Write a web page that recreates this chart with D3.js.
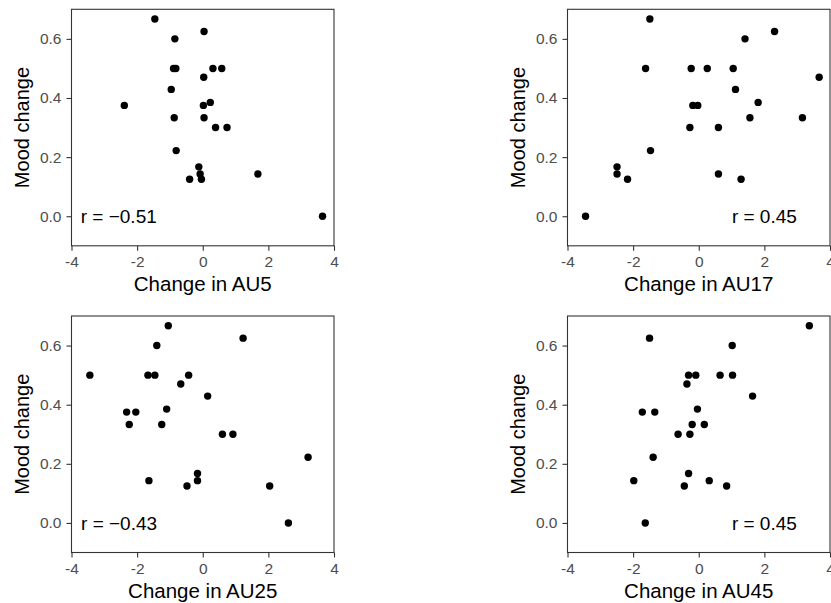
<!DOCTYPE html>
<html lang="en">
<head>
<meta charset="utf-8">
<title>Mood change vs AU change</title>
<script src="https://cdn.jsdelivr.net/npm/d3@7"></script>
<style>
  body { margin: 0; background: #fff; }
  svg text { font-family: "Liberation Sans", Arial, Helvetica, sans-serif; }
</style>
</head>
<body>
<div id="chart"><svg></svg></div>
<script>
// mood change per subject (sorted), shared by all four panels
var mood = [0.667, 0.625, 0.6, 0.5, 0.5, 0.5, 0.5, 0.47, 0.429, 0.385, 0.375, 0.375,
            0.333, 0.333, 0.3, 0.3, 0.222, 0.167, 0.143, 0.143, 0.125, 0.125, 0];

// change in each action unit, same order as mood
var au5  = [-1.46, 0.04, -0.85, -0.89, -0.82, 0.31, 0.58, 0.03, -0.96, 0.23, -2.39, 0.02,
            -0.87, 0.04, 0.39, 0.74, -0.81, -0.12, -0.08, 1.68, -0.40, -0.04, 3.65];
var au17 = [-1.49, 2.31, 1.41, -1.62, -0.23, 0.26, 1.05, 3.67, 1.12, 1.81, -0.18, -0.03,
            1.56, 3.16, -0.27, 0.60, -1.47, -2.49, -2.49, 0.60, -2.17, 1.29, -3.45];
var au25 = [-1.05, 1.23, -1.40, -3.44, -1.67, -1.46, -0.43, -0.67, 0.15, -1.10, -2.32, -2.04,
            -2.24, -1.25, 0.60, 0.92, 3.21, -0.16, -0.16, -1.64, -0.48, 2.04, 2.61];
var au45 = [3.37, -1.50, 1.02, -0.31, -0.09, 0.65, 1.03, -0.36, 1.64, -0.04, -1.72, -1.34,
            -0.20, 0.17, -0.63, -0.27, -1.39, -0.31, -1.98, 0.32, -0.44, 0.85, -1.63];

var auNames = ['AU5', 'AU17', 'AU25', 'AU45'];
var auValues = [au5, au17, au25, au45];
var rLabels = ['r = \u22120.51', 'r = 0.45', 'r = \u22120.43', 'r = 0.45'];
var rLabelX = [-2.56, 2.0, -2.55, 2.0];

var xTicks = [-4, -2, 0, 2, 4];
var yTicks = [0.0, 0.2, 0.4, 0.6];

var width = 831, height = 603;
var svg = d3.select('#chart svg').attr('width', width).attr('height', height);

var plotW = 262.5, plotH = 236.5;
var offsets = [[71.5, 9.3], [567.5, 9.3], [71.5, 316], [567.5, 316]];

var x = d3.scaleLinear().domain([-4, 4]).range([0, plotW]);
var y = d3.scaleLinear().domain([-0.1, 0.7]).range([plotH, 0]);

for (var i = 0; i < 4; i++) {
    var g = svg.append('g')
        .attr('transform', 'translate(' + offsets[i][0] + ',' + offsets[i][1] + ')');

    var pts = mood.map(function(m, j) { return {x: auValues[i][j], y: m}; });

    // axes
    var xAxis = g.append('g')
        .attr('transform', 'translate(0,' + plotH + ')')
        .call(d3.axisBottom(x).tickValues(xTicks).tickSize(5).tickPadding(5)
              .tickFormat(d3.format('d')));
    var yAxis = g.append('g')
        .call(d3.axisLeft(y).tickValues(yTicks).tickSize(5).tickPadding(5)
              .tickFormat(d3.format('.1f')));

    [xAxis, yAxis].forEach(function(a) {
        a.select('.domain').remove();
        a.selectAll('line').attr('stroke', '#333').attr('stroke-width', 1.1);
        a.selectAll('text').attr('fill', '#4d4d4d').style('font-size', '15.5px');
    });
    // plain hyphen in tick labels like the original
    xAxis.selectAll('text').text(function(d) { return String(d); });

    // panel border
    g.append('rect')
        .attr('x', 0).attr('y', 0)
        .attr('width', plotW).attr('height', plotH)
        .attr('fill', 'none')
        .attr('stroke', '#333')
        .attr('stroke-width', 1.1);

    g.selectAll('circle.pt')
        .data(pts)
        .enter().append('circle')
        .attr('class', 'pt')
        .attr('cx', function(d) { return x(d.x); })
        .attr('cy', function(d) { return y(d.y); })
        .attr('r', 3.7)
        .attr('fill', '#000');

    g.append('text')
        .attr('x', x(rLabelX[i]))
        .attr('y', y(0))
        .attr('dy', '0.36em')
        .attr('text-anchor', 'middle')
        .style('font-size', '19px')
        .attr('fill', '#000')
        .text(rLabels[i]);

    // axis titles
    g.append('text')
        .attr('x', plotW / 2)
        .attr('y', plotH + 45.5)
        .attr('text-anchor', 'middle')
        .style('font-size', '20.5px')
        .attr('fill', '#000')
        .text('Change in ' + auNames[i]);

    g.append('text')
        .attr('transform', 'translate(-43,' + (plotH / 2) + ') rotate(-90)')
        .attr('text-anchor', 'middle')
        .style('font-size', '20px')
        .attr('fill', '#000')
        .text('Mood change');
}
</script>
</body>
</html>
